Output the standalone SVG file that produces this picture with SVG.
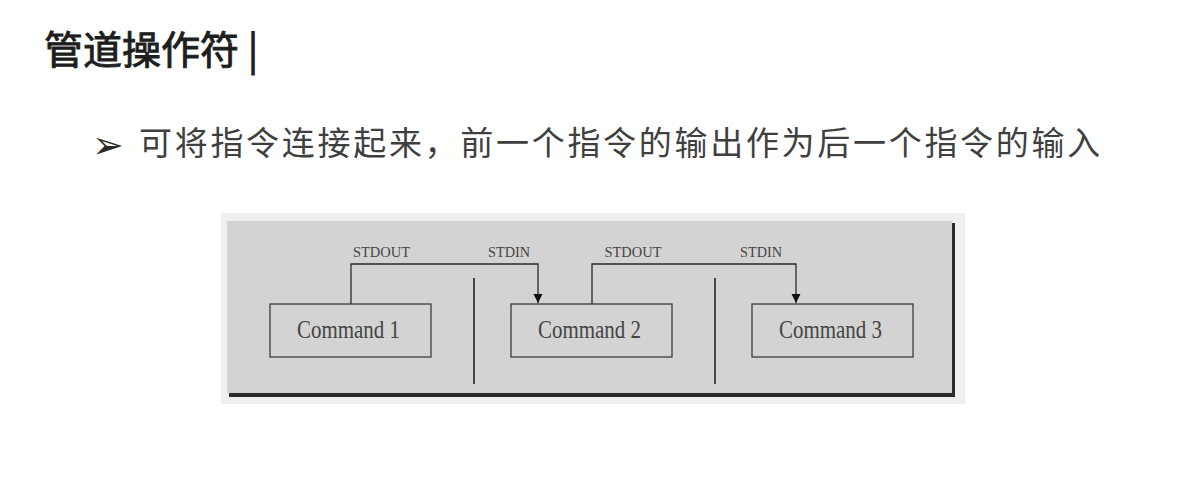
<svg xmlns="http://www.w3.org/2000/svg" width="1195" height="480" viewBox="0 0 1195 480">
<defs>
<style>
.title{font-family:"Noto Sans CJK SC","Noto Sans",sans-serif;font-size:39px;fill:#1e1e1e;stroke:#1e1e1e;stroke-width:0.9px;}
.bullet{font-family:"Noto Sans CJK SC","Noto Sans",sans-serif;font-size:33px;fill:#3f3f3f;letter-spacing:2.7px;}
.lbl{font-family:"Liberation Serif","DejaVu Serif",serif;font-size:15.5px;fill:#444;}
.cmd{font-family:"Liberation Serif","DejaVu Serif",serif;font-size:25px;fill:#444;}
.box{fill:#d3d3d3;stroke:#3c3c3c;stroke-width:1.3;}
.conn{fill:none;stroke:#2a2a2a;stroke-width:1.3;}
.div{stroke:#1a1a1a;stroke-width:1.5;}
</style>
<marker id="arr" markerWidth="10" markerHeight="10" refX="9" refY="5" orient="auto" markerUnits="userSpaceOnUse">
<path d="M0,0.5 L9,5 L0,9.5 Z" fill="#111"/>
</marker>
</defs>
<rect x="0" y="0" width="1195" height="480" fill="#ffffff"/>
<text class="title" x="44" y="64">管道操作符 |</text>
<text x="92" y="158" font-family="DejaVu Sans,sans-serif" font-size="38" fill="#2a2a2a">➢</text>
<text class="bullet" x="139" y="155">可将指令连接起来，前一个指令的输出作为后一个指令的输入</text>
<g id="panel">
<rect x="221" y="213" width="744" height="191" fill="#efefef"/>
<rect x="229" y="223" width="726" height="174" fill="#2b2b2b"/>
<rect x="227" y="221" width="725" height="172" fill="#d3d3d3"/>
<line class="div" x1="474" y1="278" x2="474" y2="384"/>
<line class="div" x1="715" y1="278" x2="715" y2="384"/>
</g>
<g id="connectors">
<path class="conn" d="M351,304 V264 H538 V303" marker-end="url(#arr)"/>
<path class="conn" d="M592,304 V264 H796 V303" marker-end="url(#arr)"/>
<text class="lbl" x="353" y="257" textLength="57" lengthAdjust="spacingAndGlyphs">STDOUT</text>
<text class="lbl" x="488" y="257" textLength="42" lengthAdjust="spacingAndGlyphs">STDIN</text>
<text class="lbl" x="604.5" y="257" textLength="57" lengthAdjust="spacingAndGlyphs">STDOUT</text>
<text class="lbl" x="740" y="257" textLength="42" lengthAdjust="spacingAndGlyphs">STDIN</text>
</g>
<g id="cmd1">
<rect class="box" x="270" y="304" width="161" height="53"/>
<text class="cmd" x="297" y="338" textLength="103" lengthAdjust="spacingAndGlyphs">Command 1</text>
</g>
<g id="cmd2">
<rect class="box" x="511" y="304" width="161" height="53"/>
<text class="cmd" x="538" y="338" textLength="103" lengthAdjust="spacingAndGlyphs">Command 2</text>
</g>
<g id="cmd3">
<rect class="box" x="752" y="304" width="161" height="53"/>
<text class="cmd" x="779" y="338" textLength="103" lengthAdjust="spacingAndGlyphs">Command 3</text>
</g>
</svg>
